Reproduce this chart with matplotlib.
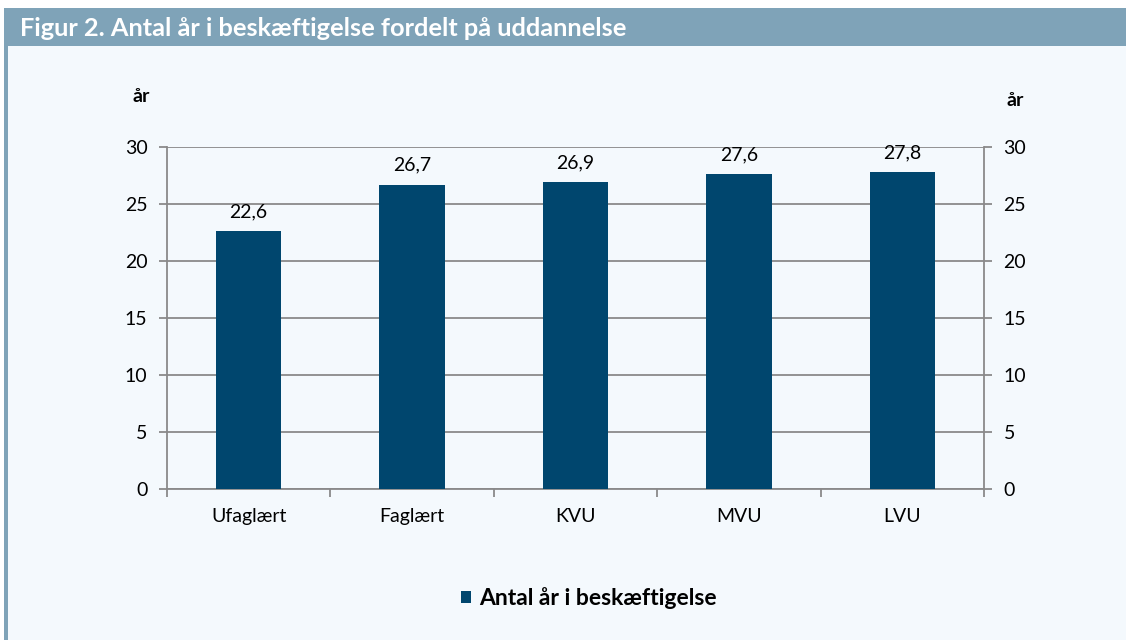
import matplotlib
matplotlib.use("Agg")
import matplotlib.pyplot as plt
from matplotlib.patches import Rectangle

categories = ["Ufaglært", "Faglært", "KVU", "MVU", "LVU"]
values = [22.6, 26.7, 26.9, 27.6, 27.8]
value_labels = ["22,6", "26,7", "26,9", "27,6", "27,8"]
yticks = [0, 5, 10, 15, 20, 25, 30]

plt.rcParams['font.family'] = ['Lato', 'DejaVu Sans']

bar_color = '#00466e'
grid_color = '#8a8a8a'
bg_color = '#f4f9fd'
head_color = '#7fa3b8'

fig = plt.figure(figsize=(11.26, 6.4), dpi=100)
fig.patch.set_facecolor('white')

# baggrund, titelbjælke og venstre kant
fig.patches.append(Rectangle((4/1126, 0), 1 - 4/1126, 1 - 46/640, transform=fig.transFigure,
                             facecolor=bg_color, edgecolor='none', zorder=-5))
fig.patches.append(Rectangle((4/1126, 1 - 46/640), 1 - 4/1126, 38/640, transform=fig.transFigure,
                             facecolor=head_color, edgecolor='none', zorder=-5))
fig.patches.append(Rectangle((4/1126, 0), 4/1126, 1 - 46/640, transform=fig.transFigure,
                             facecolor=head_color, edgecolor='none', zorder=-5))
fig.text(20/1126, 1 - 28/640, "Figur 2. Antal år i beskæftigelse fordelt på uddannelse",
         color='white', fontsize=18.3, fontweight='bold', va='center', ha='left')

ax = fig.add_axes([167/1126, 1 - 489/640, 817/1126, 342/640])
ax.set_facecolor('none')
x = range(len(categories))
bars = ax.bar(x, values, width=0.4, color=bar_color, zorder=3, label="Antal år i beskæftigelse")
ax.set_xlim(-0.5, len(categories) - 0.5)
ax.set_ylim(0, 30)
ax.set_yticks(yticks)
ax.set_xticks(x)
ax.set_xticklabels(categories, fontsize=14)
ax.tick_params(axis='x', length=0, pad=14)
ax.tick_params(axis='y', labelsize=14, length=6, color=grid_color, width=1.3, pad=8)
ax.grid(axis='y', color=grid_color, linewidth=1.3, zorder=1)
for s in ['left', 'bottom', 'right']:
    ax.spines[s].set_color(grid_color)
    ax.spines[s].set_linewidth(1.3)
ax.spines['top'].set_visible(False)

# tick-streger mellem kategorierne
ax.set_xticks([i - 0.5 for i in range(len(categories) + 1)], minor=True)
ax.tick_params(axis='x', which='minor', length=6, color=grid_color, width=1.3)

for b, lab in zip(bars, value_labels):
    ax.annotate(lab, (b.get_x() + b.get_width() / 2, b.get_height()), xytext=(0, 8),
                textcoords='offset points', ha='center', va='bottom', fontsize=14)

ax2 = ax.twinx()
ax2.set_ylim(0, 30)
ax2.set_yticks(yticks)
ax2.tick_params(axis='y', labelsize=14, length=6, color=grid_color, width=1.3, pad=8)
for s in ax2.spines.values():
    s.set_visible(False)

fig.text(141/1126, 1 - 97/640, "år", fontsize=14, fontweight='bold', ha='center', va='center')
fig.text(1015/1126, 1 - 101/640, "år", fontsize=14, fontweight='bold', ha='center', va='center')

fig.legend(handles=[bars], labels=["Antal år i beskæftigelse"], loc='center',
           bbox_to_anchor=(589/1126, 1 - 598/640), frameon=False,
           prop={'weight': 'bold', 'size': 16.5}, handlelength=0.45, handleheight=0.45,
           handletextpad=0.35)

fig.savefig("out.png", dpi=100, facecolor=fig.get_facecolor())
